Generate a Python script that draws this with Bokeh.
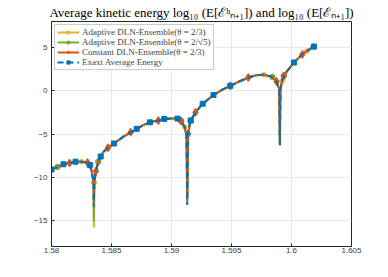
from bokeh.plotting import figure
from bokeh.models import Range1d, FixedTicker, Legend, LegendItem, PrintfTickFormatter
from bokeh.embed import file_html
from bokeh.resources import INLINE

# time grid (shared by all series)
t = [1.5800, 1.5805, 1.5810, 1.5815, 1.5820, 1.5825, 1.5830, 1.5832, 1.58335, 1.5835,
     1.58353, 1.58357, 1.5837, 1.5839, 1.5841, 1.5843, 1.5847, 1.5852, 1.5860, 1.5866,
     1.5871, 1.5876, 1.5882, 1.5889, 1.5894, 1.5900, 1.5905, 1.5908, 1.5911, 1.59125,
     1.59131, 1.59138, 1.5915, 1.5916, 1.5920, 1.5926, 1.5935, 1.5942, 1.5949, 1.5957,
     1.5964, 1.5971, 1.5977, 1.5984, 1.59875, 1.59898, 1.59903, 1.59908, 1.59922, 1.59936,
     1.5996, 1.6002, 1.6009, 1.6013, 1.60186]

e_adapt1 = [-9.1, -8.8, -8.5, -8.35, -8.2, -8.2, -8.3, -8.6, -9.3, -10.6,
            -15.8, -10.6, -9.3, -8.2, -7.6, -7.1, -6.6, -6.1, -5.3, -4.8,
            -4.4, -4.0, -3.65, -3.45, -3.26, -3.2, -3.22, -3.5, -4.2, -5.2,
            -12.3, -5.0, -4.0, -3.45, -2.5, -1.5, -0.5, 0.1, 0.57, 1.1,
            1.53, 1.8, 1.85, 1.6, 1.07, 0.2, -6.0, 0.2, 1.15, 1.72,
            2.2, 3.26, 4.2, 4.6, 5.1]
e_adapt2 = [-9.1, -8.8, -8.5, -8.35, -8.2, -8.2, -8.3, -8.6, -9.3, -10.6,
            -15.1, -10.6, -9.3, -8.2, -7.6, -7.1, -6.6, -6.1, -5.3, -4.8,
            -4.4, -4.0, -3.65, -3.45, -3.26, -3.2, -3.22, -3.5, -4.2, -5.2,
            -12.5, -5.0, -4.0, -3.45, -2.5, -1.5, -0.5, 0.1, 0.57, 1.1,
            1.53, 1.8, 1.85, 1.6, 1.07, 0.2, -6.1, 0.2, 1.15, 1.72,
            2.2, 3.26, 4.2, 4.6, 5.1]
e_const = [-9.1, -8.8, -8.5, -8.35, -8.2, -8.2, -8.3, -8.6, -9.3, -10.6,
           -13.0, -10.6, -9.3, -8.2, -7.6, -7.1, -6.6, -6.1, -5.3, -4.8,
           -4.4, -4.0, -3.65, -3.45, -3.26, -3.2, -3.22, -3.5, -4.2, -5.2,
           -12.8, -5.0, -4.0, -3.45, -2.5, -1.5, -0.5, 0.1, 0.57, 1.1,
           1.53, 1.8, 1.85, 1.6, 1.07, 0.2, -6.3, 0.2, 1.15, 1.72,
           2.2, 3.26, 4.2, 4.6, 5.1]
e_exact = [-9.1, -8.8, -8.5, -8.35, -8.2, -8.2, -8.3, -8.6, -9.3, -10.6,
           -13.4, -10.6, -9.3, -8.2, -7.6, -7.1, -6.6, -6.1, -5.3, -4.8,
           -4.4, -4.0, -3.65, -3.45, -3.26, -3.2, -3.22, -3.5, -4.2, -5.2,
           -13.2, -5.0, -4.0, -3.45, -2.5, -1.5, -0.5, 0.1, 0.57, 1.1,
           1.53, 1.8, 1.85, 1.6, 1.07, 0.2, -6.3, 0.2, 1.15, 1.72,
           2.2, 3.26, 4.2, 4.6, 5.1]

# marker indices (MATLAB MarkerIndices style)
mk_adapt1 = [5, 9, 11, 13, 28, 31, 42, 48, 53]
mk_adapt2 = [1, 7, 13, 27, 33, 43, 49, 54]
mk_const = [3, 6, 12, 16, 19, 23, 27, 31, 34, 38, 40, 44, 49, 52]
mk_exact = [0, 2, 4, 7, 14, 17, 20, 22, 24, 26, 33, 35, 36, 38, 51, 54]

labels = ["Adaptive DLN-Ensemble(\u03b8 = 2/3)",
          "Adaptive DLN-Ensemble(\u03b8 = 2/\u221a5)",
          "Constant DLN-Ensemble(\u03b8 = 2/3)",
          "Exaxt Average Energy"]

x_ticks = [1.58, 1.585, 1.59, 1.595, 1.6, 1.605]
y_ticks = [-15, -10, -5, 0, 5]

title = ("Average kinetic energy log\u2081\u2080 (E[\u2130\u02b0\u2099\u208a\u2081]) "
         "and log\u2081\u2080 (E[\u2130\u2099\u208a\u2081])")

p = figure(width=388, height=272,
           x_range=Range1d(1.58, 1.605), y_range=Range1d(-18, 8),
           output_backend="svg", toolbar_location=None,
           min_border_left=51, min_border_right=37, min_border_bottom=26, min_border_top=21,
           background_fill_color="white", border_fill_color="white")

p.title.text = title
p.title.align = "center"
p.title.vertical_align = "bottom"
p.title.text_font = "Liberation Serif"
p.title.text_font_size = "13px"
p.title.text_font_style = "normal"
p.title.text_color = "black"
p.title.standoff = 3

axis_color = "#262626"
for ax in [p.xaxis[0], p.yaxis[0]]:
    ax.axis_line_color = axis_color
    ax.major_tick_line_color = axis_color
    ax.major_tick_in = 3
    ax.major_tick_out = 0
    ax.minor_tick_line_color = None
    ax.major_label_text_font = "Liberation Sans"
    ax.major_label_text_font_size = "8px"
    ax.major_label_text_color = "#404040"
p.xaxis[0].ticker = FixedTicker(ticks=x_ticks)
p.xaxis[0].formatter = PrintfTickFormatter(format="%g")
p.xaxis[0].major_label_standoff = 1
p.yaxis[0].ticker = FixedTicker(ticks=y_ticks)
p.yaxis[0].major_label_standoff = 4

p.xgrid.ticker = FixedTicker(ticks=x_ticks)
p.ygrid.ticker = FixedTicker(ticks=y_ticks)
p.grid.grid_line_color = "#e8e8e8"
p.grid.grid_line_width = 1
p.outline_line_color = axis_color

series = [
    (e_adapt1, mk_adapt1, "#EDB120", "circle", 4.5, "solid"),
    (e_adapt2, mk_adapt2, "#77AC30", "circle", 5.5, "solid"),
    (e_const, mk_const, "#D95319", "diamond", 8, "solid"),
    (e_exact, mk_exact, "#0072BD", "square", 5, "6 4"),
]

items = []
for (ys, mk, col, mkr, sz, dash), lab in zip(series, labels):
    ln = p.line(t, ys, line_color=col, line_width=2, line_dash=dash)
    sc = p.scatter([t[i] for i in mk], [ys[i] for i in mk], marker=mkr, size=sz,
                   fill_color=col, line_color=col)
    items.append(LegendItem(label=lab, renderers=[ln, sc]))

legend = Legend(items=items, location="top_left")
legend.label_text_font = "Liberation Serif"
legend.label_text_font_size = "9px"
legend.label_height = 8
legend.glyph_height = 8
legend.glyph_width = 22
legend.spacing = 0
legend.padding = 2
legend.margin = 3
legend.label_standoff = 3
legend.border_line_color = "#999999"
legend.border_line_width = 1
legend.background_fill_alpha = 1
p.add_layout(legend)

open("out.html", "w").write(file_html(p, INLINE))
